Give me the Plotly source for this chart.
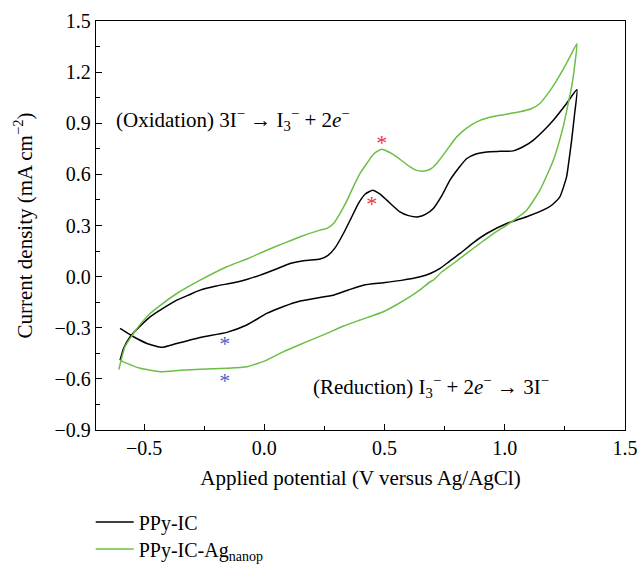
import plotly.graph_objects as go

# PPy-IC (black) : forward branch then return branch
ppy_x = [-0.600, -0.585, -0.558, -0.520, -0.475, -0.420, -0.364, -0.310, -0.267, -0.200,
         -0.128, -0.070, -0.017, 0.050, 0.107, 0.170, 0.232, 0.265, 0.295, 0.329,
         0.360, 0.391, 0.420, 0.451, 0.480, 0.509, 0.564, 0.600, 0.641, 0.670,
         0.703, 0.740, 0.772, 0.810, 0.842, 0.880, 0.925, 0.980, 1.035, 1.080,
         1.118, 1.160, 1.202, 1.257, 1.300,
         1.290, 1.278, 1.265, 1.257, 1.229, 1.200, 1.174, 1.091, 1.008, 0.925,
         0.870, 0.814, 0.770, 0.731, 0.690, 0.648, 0.570, 0.495, 0.412, 0.350,
         0.287, 0.220, 0.149, 0.080, 0.010, -0.073, -0.156, -0.267, -0.364, -0.426,
         -0.488, -0.544, -0.600]
ppy_y = [-0.490, -0.420, -0.353, -0.295, -0.236, -0.185, -0.138, -0.105, -0.079, -0.055,
         -0.036, -0.015, 0.009, 0.045, 0.077, 0.095, 0.103, 0.125, 0.170, 0.253,
         0.340, 0.429, 0.485, 0.507, 0.485, 0.449, 0.380, 0.358, 0.351, 0.365,
         0.400, 0.480, 0.566, 0.640, 0.693, 0.720, 0.732, 0.735, 0.738, 0.765,
         0.800, 0.855, 0.918, 1.016, 1.098,
         0.950, 0.800, 0.660, 0.585, 0.468, 0.425, 0.400, 0.351, 0.312, 0.253,
         0.200, 0.136, 0.090, 0.048, 0.018, -0.001, -0.022, -0.036, -0.050, -0.078,
         -0.109, -0.125, -0.143, -0.175, -0.216, -0.284, -0.327, -0.357, -0.392, -0.415,
         -0.392, -0.353, -0.304]

# PPy-IC-Ag nanoparticles (green)
ag_x = [-0.605, -0.590, -0.579, -0.544, -0.510, -0.475, -0.420, -0.364, -0.267, -0.156,
        -0.070, 0.010, 0.080, 0.149, 0.232, 0.260, 0.290, 0.315, 0.345, 0.370,
        0.400, 0.426, 0.455, 0.488, 0.520, 0.551, 0.606, 0.630, 0.659, 0.690,
        0.717, 0.760, 0.800, 0.840, 0.883, 0.930, 0.980, 1.063, 1.110, 1.146,
        1.180, 1.216, 1.260, 1.300,
        1.290, 1.278, 1.260, 1.243, 1.202, 1.146, 1.091, 1.008, 0.950, 0.897,
        0.840, 0.786, 0.740, 0.703, 0.690, 0.650, 0.606, 0.550, 0.495, 0.398,
        0.330, 0.260, 0.200, 0.149, 0.080, 0.010, -0.073, -0.156, -0.267, -0.350,
        -0.433, -0.516, -0.586, -0.600]
ag_y = [-0.545, -0.460, -0.410, -0.333, -0.270, -0.216, -0.155, -0.099, -0.021, 0.058,
        0.105, 0.155, 0.195, 0.234, 0.273, 0.283, 0.315, 0.371, 0.450, 0.527,
        0.610, 0.664, 0.720, 0.748, 0.730, 0.703, 0.644, 0.625, 0.619, 0.630,
        0.664, 0.745, 0.820, 0.870, 0.908, 0.932, 0.947, 0.967, 0.985, 1.016,
        1.075, 1.152, 1.260, 1.367,
        1.230, 1.113, 0.990, 0.879, 0.683, 0.507, 0.390, 0.302, 0.250, 0.195,
        0.135, 0.077, 0.030, -0.021, -0.030, -0.075, -0.118, -0.165, -0.206, -0.255,
        -0.290, -0.333, -0.368, -0.398, -0.440, -0.490, -0.529, -0.538, -0.544, -0.550,
        -0.558, -0.538, -0.500, -0.490]

# peak markers (asterisks)
ox_star_x = [0.488, 0.447]
ox_star_y = [0.775, 0.420]
red_star_x = [-0.165, -0.165]
red_star_y = [-0.407, -0.619]

series_names = ["PPy-IC", "PPy-IC-Ag<sub>nanop</sub>"]
x_ticks = [-0.5, 0.0, 0.5, 1.0, 1.5]
y_ticks = [-0.9, -0.6, -0.3, 0.0, 0.3, 0.6, 0.9, 1.2, 1.5]

FONT = "Liberation Serif"
GREEN = "rgb(108,190,70)"

fig = go.Figure()
fig.add_trace(go.Scatter(x=ppy_x, y=ppy_y, mode="lines", name=series_names[0], legend="legend",
                         line=dict(color="black", width=1.5, shape="spline", smoothing=0.5)))
fig.add_trace(go.Scatter(x=ag_x, y=ag_y, mode="lines", name=series_names[1], legend="legend2",
                         line=dict(color=GREEN, width=1.5, shape="spline", smoothing=0.5)))
fig.add_trace(go.Scatter(x=ox_star_x, y=ox_star_y, mode="text", text=["*", "*"],
                         textposition="middle center", showlegend=False, hoverinfo="skip",
                         textfont=dict(family=FONT, size=22, color="rgb(240,50,50)")))
fig.add_trace(go.Scatter(x=red_star_x, y=red_star_y, mode="text", text=["*", "*"],
                         textposition="middle center", showlegend=False, hoverinfo="skip",
                         textfont=dict(family=FONT, size=22, color="rgb(70,100,200)")))

fig.add_annotation(x=-0.624, y=0.92, xref="x", yref="y", xanchor="left", yanchor="middle",
                   showarrow=False,
                   text="(Oxidation) 3I<sup>−</sup> → I<sub>3</sub><sup>−</sup> + 2<i>e</i><sup>−</sup>",
                   font=dict(family=FONT, size=21, color="black"))
fig.add_annotation(x=0.193, y=-0.646, xref="x", yref="y", xanchor="left", yanchor="middle",
                   showarrow=False,
                   text="(Reduction) I<sub>3</sub><sup>−</sup> + 2<i>e</i><sup>−</sup> → 3I<sup>−</sup>",
                   font=dict(family=FONT, size=21, color="black"))

axis_common = dict(showline=True, linecolor="black", linewidth=1.3, mirror=True,
                   ticks="inside", ticklen=6, tickwidth=1.2, tickcolor="black",
                   showgrid=False, zeroline=False, automargin=False,
                   tickfont=dict(family=FONT, size=20, color="black"))

fig.update_xaxes(range=[-0.7, 1.5], tickvals=x_ticks, tickformat=".1f",
                 minor=dict(dtick=0.25, tick0=0, ticks="inside", ticklen=4, tickwidth=1.2, tickcolor="black"),
                 title=dict(text="Applied potential (V versus Ag/AgCl)", standoff=12,
                            font=dict(family=FONT, size=21, color="black")),
                 **axis_common)
fig.update_yaxes(range=[-0.9, 1.5], tickvals=y_ticks, tickformat=".1f",
                 minor=dict(dtick=0.15, tick0=0, ticks="inside", ticklen=4, tickwidth=1.2, tickcolor="black"),
                 title=dict(text="Current density (mA cm<sup>−2</sup>)", standoff=16,
                            font=dict(family=FONT, size=21, color="black")),
                 **axis_common)

legend_common = dict(xanchor="left", yanchor="middle", itemwidth=38,
                     font=dict(family=FONT, size=20, color="black"),
                     bgcolor="rgba(0,0,0,0)")

fig.update_layout(
    width=638, height=564,
    margin=dict(l=96, r=13, t=21, b=134, autoexpand=False),
    paper_bgcolor="white", plot_bgcolor="white",
    font=dict(family=FONT, size=20, color="black"),
    legend=dict(x=-0.01, y=-0.2250, **legend_common),
    legend2=dict(x=-0.01, y=-0.2910, **legend_common),
)

fig.write_html("out.html")
